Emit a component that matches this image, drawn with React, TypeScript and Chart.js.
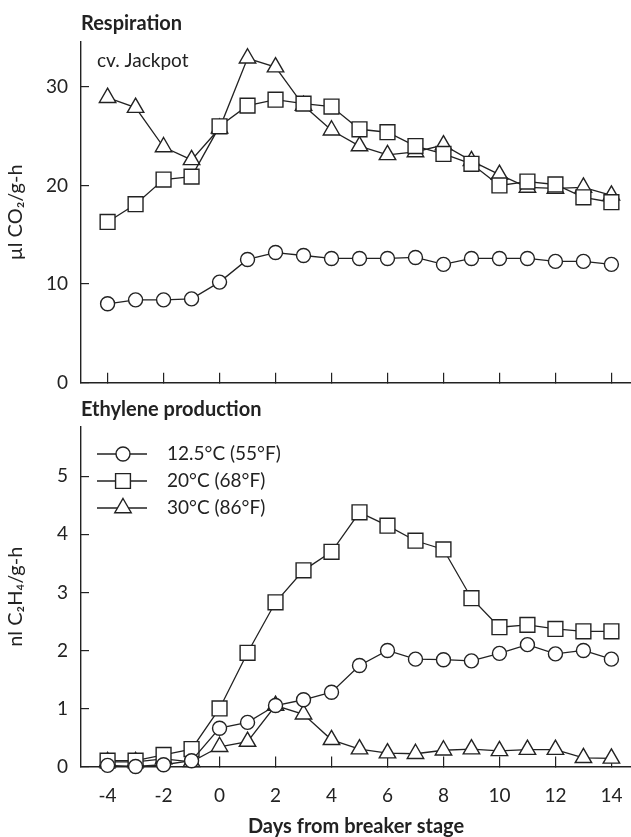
import React, { useEffect, useRef } from 'react';
import { Chart, registerables } from 'chart.js';

Chart.register(...registerables);

// ---------------- data ----------------
const days = [-4, -3, -2, -1, 0, 1, 2, 3, 4, 5, 6, 7, 8, 9, 10, 11, 12, 13, 14];
const seriesLabels = ['12.5°C (55°F)', '20°C (68°F)', '30°C (86°F)'];

// Respiration (µl CO2/g-h)
const resp125 = [8.0, 8.4, 8.4, 8.5, 10.2, 12.5, 13.2, 12.9, 12.6, 12.6, 12.6, 12.7, 12.0, 12.6, 12.6, 12.6, 12.3, 12.3, 12.0];
const resp20 = [16.3, 18.1, 20.6, 20.9, 26.0, 28.1, 28.7, 28.3, 28.0, 25.7, 25.4, 24.0, 23.2, 22.2, 20.0, 20.4, 20.1, 18.8, 18.3];
const resp30 = [28.9, 27.9, 23.9, 22.6, 25.8, 32.9, 32.0, 28.1, 25.6, 24.0, 23.1, 23.4, 24.1, 22.5, 21.1, 19.8, 19.7, 19.8, 19.0];

// Ethylene production (nl C2H4/g-h)
const eth125 = [0.02, 0.0, 0.03, 0.1, 0.66, 0.76, 1.05, 1.15, 1.28, 1.74, 2.0, 1.85, 1.84, 1.82, 1.95, 2.1, 1.94, 2.0, 1.85];
const eth20 = [0.1, 0.1, 0.2, 0.3, 1.0, 1.96, 2.83, 3.38, 3.7, 4.38, 4.15, 3.89, 3.74, 2.9, 2.4, 2.44, 2.37, 2.33, 2.33];
const eth30 = [0.08, 0.08, 0.13, 0.08, 0.34, 0.43, 1.05, 0.9, 0.46, 0.3, 0.23, 0.22, 0.28, 0.3, 0.27, 0.29, 0.29, 0.15, 0.14];

const xTickValues = [-4, -2, 0, 2, 4, 6, 8, 10, 12, 14];
const respTicks = [0, 10, 20, 30];
const ethTicks = [0, 1, 2, 3, 4, 5];

// ---------------- styling ----------------
const INK = '#222';
const FONT = 'Lato';
const markerStyles = [
  { pointStyle: 'circle', radius: 7 },
  { pointStyle: 'rect', radius: 10.5 },
  { pointStyle: 'triangle', radius: 9.5 },
];

Chart.defaults.font.family = FONT;
Chart.defaults.color = INK;

function buildDatasets(values: number[][]) {
  return values.map((vals, i) => ({
    label: seriesLabels[i],
    data: days.map((d, j) => ({ x: d, y: vals[j] })),
    borderColor: INK,
    borderWidth: 1.3,
    backgroundColor: '#fff',
    pointStyle: markerStyles[i].pointStyle,
    pointRadius: markerStyles[i].radius,
    pointHoverRadius: markerStyles[i].radius,
    pointBorderColor: INK,
    pointBackgroundColor: '#fff',
    pointBorderWidth: 1.4,
    tension: 0,
    fill: false,
    clip: false,
  }));
}

function xScale(showLabels: boolean, height: number) {
  return {
    type: 'linear',
    min: -4.95,
    max: 14.7,
    afterBuildTicks: (s: any) => {
      s.ticks = xTickValues.map((v) => ({ value: v }));
    },
    afterFit: (s: any) => {
      s.height = height;
      s.paddingLeft = 0;
      s.paddingRight = 0;
      s.paddingTop = 0;
      s.paddingBottom = 0;
    },
    grid: { drawOnChartArea: false, drawTicks: true, tickLength: -10, color: INK, lineWidth: 1.2 },
    border: { display: true, color: INK, width: 1.4 },
    ticks: {
      display: showLabels,
      padding: 28,
      font: { size: 19 },
      color: INK,
      maxRotation: 0,
      autoSkip: false,
      callback: (v: any) => String(v),
    },
    title: showLabels
      ? {
          display: true,
          text: 'Days from breaker stage',
          font: { size: 20, weight: 'bold', lineHeight: 1 },
          padding: { top: 0, bottom: 0 },
          color: INK,
        }
      : { display: false },
  };
}

function yScale(max: number, ticks: number[], title: string) {
  return {
    type: 'linear',
    min: 0,
    max,
    afterBuildTicks: (s: any) => {
      s.ticks = ticks.map((v) => ({ value: v }));
    },
    afterFit: (s: any) => {
      s.width = 81;
      s.paddingLeft = 0;
      s.paddingRight = 0;
      s.paddingTop = 0;
      s.paddingBottom = 0;
    },
    grid: { drawOnChartArea: false, drawTicks: true, tickLength: -8, color: INK, lineWidth: 1.2 },
    border: { display: true, color: INK, width: 1.4 },
    ticks: { padding: 21, font: { size: 19 }, color: INK, callback: (v: any) => String(v) },
    title: { display: true, text: title, font: { size: 20 }, padding: { top: 4, bottom: 0 }, color: INK },
  };
}

function drawMarker(ctx: CanvasRenderingContext2D, style: string, r: number, x: number, y: number) {
  ctx.beginPath();
  if (style === 'circle') {
    ctx.arc(x, y, r, 0, Math.PI * 2);
  } else if (style === 'rect') {
    const s = r * Math.SQRT1_2;
    ctx.rect(x - s, y - s, 2 * s, 2 * s);
  } else {
    const a = (2 * Math.PI) / 3;
    ctx.moveTo(x, y - r);
    ctx.lineTo(x + r * Math.sin(a), y - r * Math.cos(a));
    ctx.lineTo(x + r * Math.sin(2 * a), y - r * Math.cos(2 * a));
    ctx.closePath();
  }
  ctx.fill();
  ctx.stroke();
}

const notePlugin = {
  id: 'cvNote',
  afterDraw(chart: any) {
    const { ctx, chartArea } = chart;
    ctx.save();
    ctx.font = `19px ${FONT}`;
    ctx.fillStyle = INK;
    ctx.textBaseline = 'middle';
    ctx.textAlign = 'left';
    ctx.fillText('cv. Jackpot', chartArea.left + 16, chartArea.top + 19);
    ctx.restore();
  },
};

const legendPlugin = {
  id: 'insideLegend',
  afterDraw(chart: any) {
    const { ctx, chartArea } = chart;
    ctx.save();
    chart.data.datasets.forEach((ds: any, i: number) => {
      const y = chartArea.top + 27 + i * 27;
      const x0 = chartArea.left + 16;
      const x1 = chartArea.left + 66;
      const xm = chartArea.left + 42;
      ctx.strokeStyle = INK;
      ctx.lineWidth = 1.3;
      ctx.beginPath();
      ctx.moveTo(x0, y);
      ctx.lineTo(x1, y);
      ctx.stroke();
      ctx.fillStyle = '#fff';
      ctx.lineWidth = 1.4;
      drawMarker(ctx, ds.pointStyle, ds.pointRadius, xm, y);
      ctx.fillStyle = INK;
      ctx.font = `19px ${FONT}`;
      ctx.textBaseline = 'middle';
      ctx.textAlign = 'left';
      ctx.fillText(ds.label, chartArea.left + 86, y);
    });
    ctx.restore();
  },
};

function titleOpts(text: string, top: number, bottom: number) {
  return {
    display: true,
    text,
    align: 'start',
    fullSize: false,
    font: { size: 20, weight: 'bold', lineHeight: 1.2 },
    padding: { top, bottom },
    color: INK,
  };
}

export default function App() {
  const topRef = useRef<HTMLCanvasElement>(null);
  const botRef = useRef<HTMLCanvasElement>(null);

  useEffect(() => {
    const top = new Chart(topRef.current as HTMLCanvasElement, {
      type: 'line',
      data: { datasets: buildDatasets([resp125, resp20, resp30]) as any },
      options: {
        responsive: false,
        animation: false,
        devicePixelRatio: 1,
        events: [],
        layout: { padding: 0, autoPadding: false },
        plugins: {
          legend: { display: false },
          tooltip: { enabled: false },
          title: titleOpts('Respiration', 12, 6) as any,
        },
        scales: {
          x: xScale(false, 12.3) as any,
          y: yScale(34.55, respTicks, 'µl CO₂/g-h') as any,
        },
      },
      plugins: [notePlugin],
    });

    const bot = new Chart(botRef.current as HTMLCanvasElement, {
      type: 'line',
      data: { datasets: buildDatasets([eth125, eth20, eth30]) as any },
      options: {
        responsive: false,
        animation: false,
        devicePixelRatio: 1,
        events: [],
        layout: { padding: 0, autoPadding: false },
        plugins: {
          legend: { display: false },
          tooltip: { enabled: false },
          title: titleOpts('Ethylene production', 3, 5) as any,
        },
        scales: {
          x: xScale(true, 70.5) as any,
          y: yScale(5.85, ethTicks, 'nl C₂H₄/g-h') as any,
        },
      },
      plugins: [legendPlugin],
    });

    return () => {
      top.destroy();
      bot.destroy();
    };
  }, []);

  return (
    <div style={{ position: 'absolute', left: 0, top: 0, width: 631, height: 837, background: '#fff' }}>
      <canvas ref={topRef} width={631} height={395} style={{ display: 'block', width: 631, height: 395 }} />
      <canvas ref={botRef} width={631} height={442} style={{ display: 'block', width: 631, height: 442 }} />
    </div>
  );
}
